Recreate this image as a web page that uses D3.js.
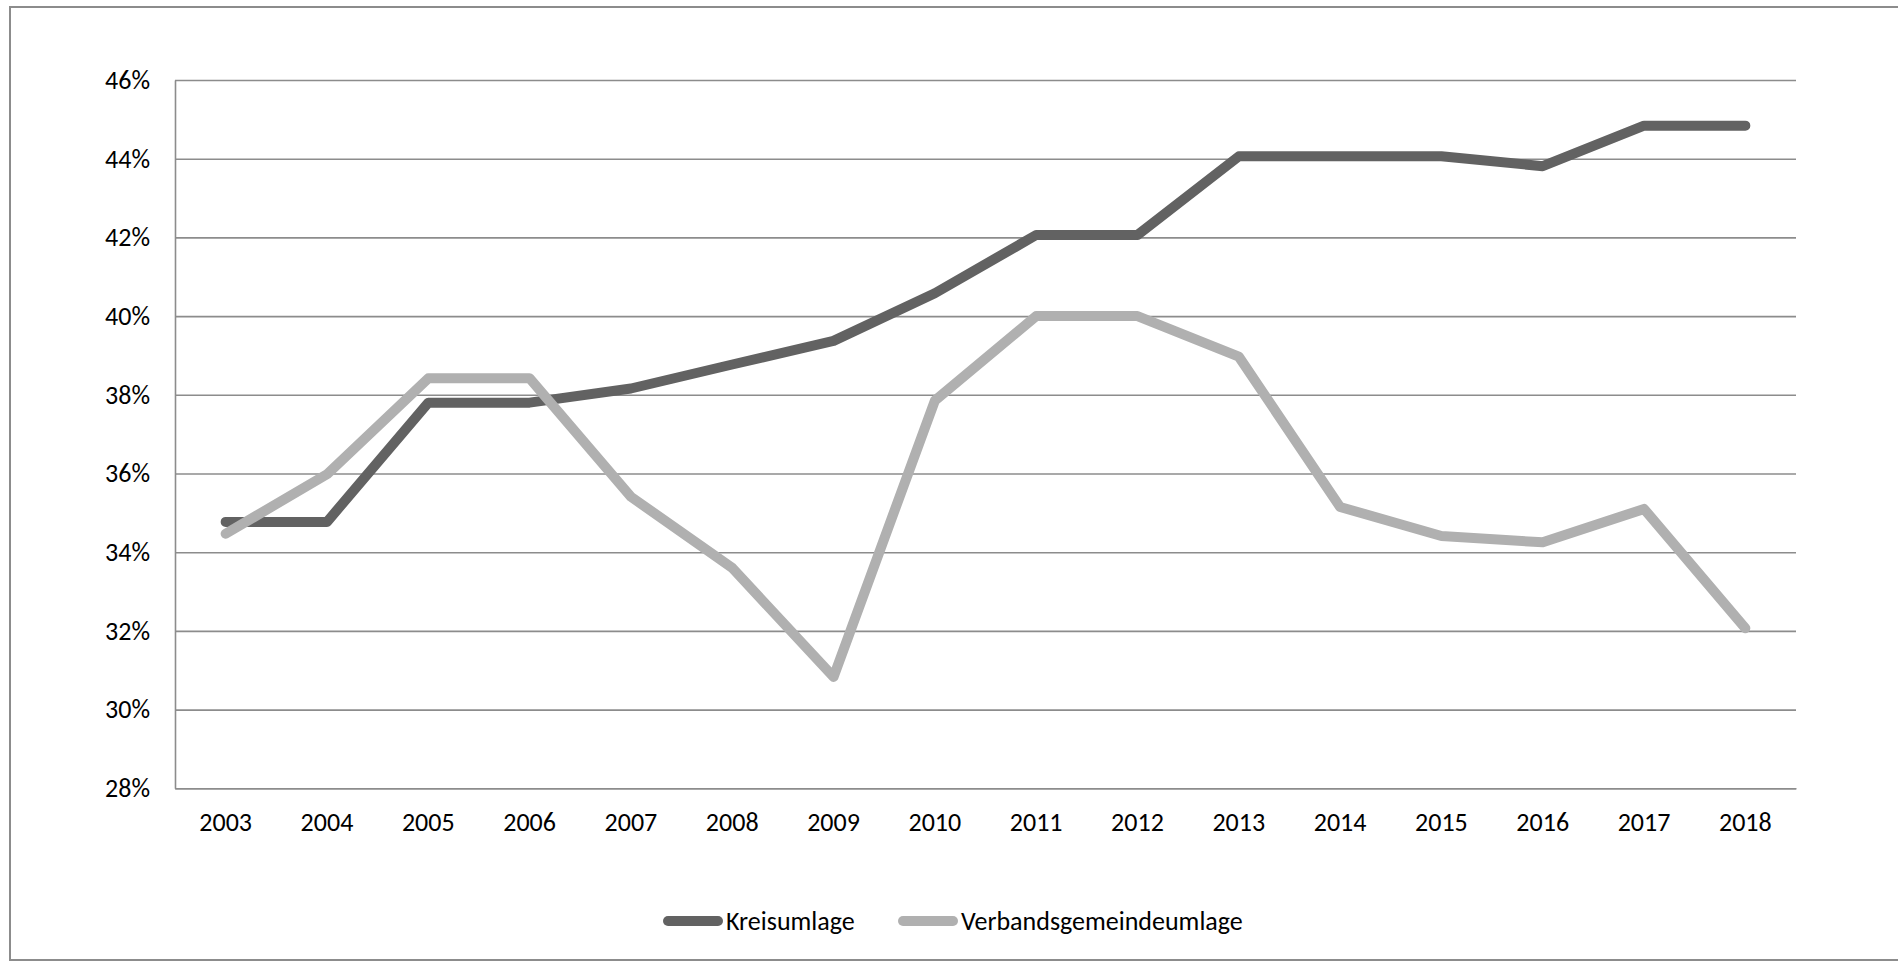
<!DOCTYPE html>
<html>
<head>
<meta charset="utf-8">
<script src="https://cdn.jsdelivr.net/npm/d3@7"></script>
<style>
  html, body { margin: 0; padding: 0; background: #fff; }
  svg { display: block; }
  text { font-family: Carlito, Calibri, Lato, "Open Sans", sans-serif; fill: #000; }
</style>
</head>
<body>
<svg id="chart"></svg>
<script>
// data
var years = ["2003","2004","2005","2006","2007","2008","2009","2010","2011","2012","2013","2014","2015","2016","2017","2018"]
var kreisumlage = [34.77, 34.77, 37.8, 37.8, 38.16, 38.77, 39.37, 40.58, 42.06, 42.06, 44.06, 44.06, 44.06, 43.81, 44.84, 44.84]
var verbandsumlage = [34.47, 35.98, 38.42, 38.42, 35.41, 33.6, 30.83, 37.85, 40.0, 40.0, 38.97, 35.15, 34.41, 34.25, 35.1, 32.07]
var yTicks = [28, 30, 32, 34, 36, 38, 40, 42, 44, 46]
var seriesNames = ["Kreisumlage", "Verbandsgemeindeumlage"]
var seriesColors = ["#626262", "#b0b0b0"]

var width = 1898, height = 962
var svg = d3.select("#chart").attr("width", width).attr("height", height)

// outer frame (right edge runs off the picture)
svg.append("rect")
  .attr("x", 10).attr("y", 7)
  .attr("width", 1895).attr("height", 953)
  .attr("fill", "none")
  .attr("stroke", "#8c8c8c")
  .attr("stroke-width", 2)

var plotLeft = 175, plotRight = 1796, plotTop = 80, plotBottom = 788.3
var fontSize = 26

var x = d3.scaleBand()
  .domain(years)
  .range([plotLeft, plotRight])

var y = d3.scaleLinear()
  .domain([28, 46])
  .range([plotBottom, plotTop])

// gridlines
var grid = svg.append("g")
  .attr("transform", "translate(" + plotLeft + ",0)")
  .call(d3.axisLeft(y).tickValues(yTicks).tickSize(-(plotRight - plotLeft)).tickFormat(""))
grid.select(".domain").remove()
grid.selectAll("line").attr("stroke", "#8c8c8c").attr("stroke-width", 1.6)

// y axis line + labels
var yAxis = svg.append("g")
  .attr("transform", "translate(" + plotLeft + ",0)")
  .call(d3.axisLeft(y).tickValues(yTicks).tickSize(0).tickPadding(25).tickFormat(d => d + "%"))
yAxis.select(".domain").attr("stroke", "#8c8c8c").attr("stroke-width", 1.6)
yAxis.selectAll("text").attr("font-size", fontSize).attr("fill", "#000")

// x axis labels
var xAxis = svg.append("g")
  .attr("transform", "translate(0," + plotBottom + ")")
  .call(d3.axisBottom(x).tickSize(0).tickPadding(24))
xAxis.select(".domain").attr("stroke", "#8c8c8c").attr("stroke-width", 1.6)
xAxis.selectAll("text").attr("font-size", fontSize).attr("fill", "#000")

var line = d3.line()
  .x((d, i) => x(years[i]) + x.bandwidth() / 2)
  .y(d => y(d))

var allSeries = [kreisumlage, verbandsumlage]
svg.selectAll(".series")
  .data(allSeries)
  .enter().append("path")
  .attr("class", "series")
  .attr("d", line)
  .attr("fill", "none")
  .attr("stroke", (d, i) => seriesColors[i])
  .attr("stroke-width", 10)
  .attr("stroke-linecap", "round")
  .attr("stroke-linejoin", "round")

// legend
var legendX = [663, 898]
var legendY = 921
var legend = svg.append("g")
legend.selectAll("line")
  .data(seriesNames)
  .enter().append("line")
  .attr("x1", (d, i) => legendX[i] + 5)
  .attr("x2", (d, i) => legendX[i] + 55)
  .attr("y1", legendY).attr("y2", legendY)
  .attr("stroke", (d, i) => seriesColors[i])
  .attr("stroke-width", 10)
  .attr("stroke-linecap", "round")
legend.selectAll("text")
  .data(seriesNames)
  .enter().append("text")
  .attr("x", (d, i) => legendX[i] + 63)
  .attr("y", legendY)
  .attr("dy", "0.35em")
  .attr("font-size", fontSize)
  .text(d => d)
</script>
</body>
</html>
